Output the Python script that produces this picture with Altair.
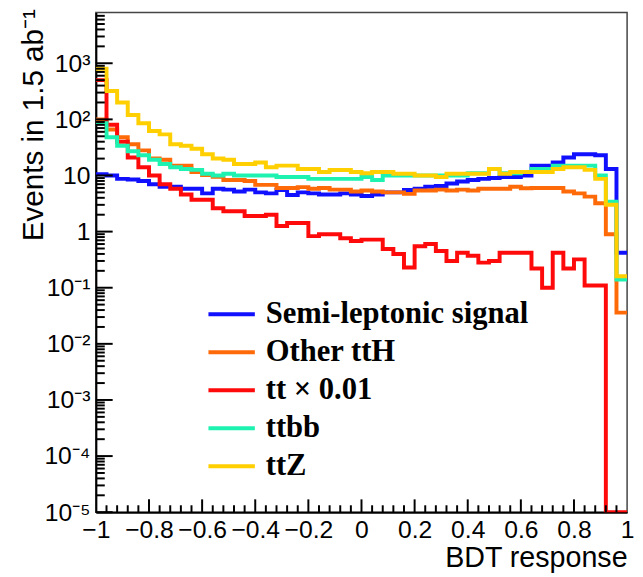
import altair as alt
import pandas as pd

# ---- data -------------------------------------------------------------
bin_lo = -1.0
bin_w = 0.04
n_bins = 50

names = ["Semi-leptonic signal", "Other ttH", "tt \u00d7 0.01", "ttbb", "ttZ"]
colors = ["#1010ff", "#ff6a08", "#ff0a0a", "#1ef2b0", "#ffcf00"]

signal = [10.5, 10, 8.7, 8.5, 8, 7, 6.3, 6.3, 5.8, 5.8,
          4.8, 5.8, 5.6, 5.2, 5.6, 5.0, 4.8, 5.5, 4.5, 5.0,
          4.8, 4.6, 4.6, 4.8, 4.6, 4.3, 4.6, 5.0, 5.0, 5.5,
          5.8, 6.3, 6.5, 7.2, 7.8, 8.3, 8.7, 9.0, 9.4, 9.4,
          10.0, 15, 15, 17, 21, 24, 24, 23, 13, 0.42]
other_tth = [100, 66, 48, 36, 28, 20, 19, 15, 15, 11.5,
             10.2, 9.5, 8.3, 8.3, 8.0, 6.8, 6.8, 6.0, 6.0, 6.2,
             5.8, 6.0, 5.6, 5.6, 5.2, 5.4, 5.2, 5.0, 5.0, 4.7,
             5.4, 5.4, 5.6, 5.4, 5.6, 5.4, 5.8, 5.8, 5.8, 6.3,
             5.9, 6.0, 6.0, 6.0, 5.2, 4.8, 4.2, 3.2, 0.9, 0.036]
tt_scaled = [500, 80, 40, 21, 14, 10, 7, 5.8, 4.6, 3.7,
             3.7, 2.6, 2.3, 2.3, 1.9, 1.9, 2.0, 1.26, 1.42, 1.42,
             0.83, 0.9, 0.9, 0.76, 0.68, 0.72, 0.72, 0.49, 0.40, 0.23,
             0.55, 0.60, 0.45, 0.30, 0.42, 0.37, 0.28, 0.30, 0.42, 0.42,
             0.42, 0.22, 0.10, 0.42, 0.22, 0.32, 0.11, 0.11, 0, 0]
ttbb = [85, 48, 34, 27, 23, 19, 16, 14, 13, 12.6,
        10.7, 10, 10.7, 10, 10, 10, 10, 9.4, 9.4, 9.4,
        8.7, 8.7, 8.7, 8.7, 8.7, 9.4, 8.3, 10, 10, 10,
        10, 10, 10, 10, 10, 11, 11, 13, 11, 11,
        11.5, 13, 13, 15, 15, 15, 15, 10, 3.4, 0.14]
ttz = [800, 320, 200, 120, 85, 62, 54, 36, 34, 30,
       24, 20, 19, 16, 16, 17, 14, 15, 15, 13,
       13, 11.5, 12.5, 12.5, 11.5, 11, 11.5, 11.5, 10.7, 10.7,
       10, 10, 9.4, 10.7, 10.7, 10.7, 10.7, 13, 10.7, 11.5,
       11.5, 11.5, 11.5, 13, 14, 14, 12.6, 8.7, 3.0, 0.16]

x_tick_values = [-1, -0.8, -0.6, -0.4, -0.2, 0, 0.2, 0.4, 0.6, 0.8, 1]
y_decades = [1e-5, 1e-4, 1e-3, 1e-2, 1e-1, 1, 10, 100, 1000]
y_min, y_max = 1e-5, 8000

# ---- tables -------------------------------------------------------------
rows = []
for name, vals in zip(names, [signal, other_tth, tt_scaled, ttbb, ttz]):
    for i, v in enumerate(vals + [vals[-1]]):
        rows.append({"series": name,
                     "x": round(bin_lo + i * bin_w, 4),
                     "y": max(v, y_min)})
df = pd.DataFrame(rows)

y_minor = []
for d in range(-5, 4):
    for k in range(2, 10):
        v = k * 10.0 ** d
        if v < y_max:
            y_minor.append(v)
y_minor_df = pd.DataFrame({"v": y_minor})
y_major_df = pd.DataFrame({"v": y_decades})
x_minor_df = pd.DataFrame({"v": [round(bin_lo + i * bin_w, 4) for i in range(51)
                                 if i % 5 != 0]})
x_major_df = pd.DataFrame({"v": x_tick_values[1:-1]})

W, H = 538, 506
FONT = "Liberation Sans"
LABEL_SIZE = 25
TITLE_SIZE = 29

xscale = alt.Scale(domain=[-1, 1], nice=False, zero=False)
yscale = alt.Scale(type="log", domain=[y_min, y_max], nice=False)

label_expr = (
    "datum.value >= 999 ? '10\u00b3' : datum.value >= 99 ? '10\u00b2' : "
    "datum.value >= 9 ? '10' : datum.value >= 0.9 ? '1' : "
    "datum.value >= 0.09 ? '10\u207b\u00b9' : datum.value >= 0.009 ? '10\u207b\u00b2' : "
    "datum.value >= 0.0009 ? '10\u207b\u00b3' : datum.value >= 0.00009 ? '10\u207b\u2074' : "
    "'10\u207b\u2075'"
)

x_axis = alt.Axis(values=x_tick_values, format="~g", ticks=False, grid=False,
                  labelFont=FONT, labelFontSize=LABEL_SIZE, labelPadding=6,
                  labelColor="black", domainColor="black", domainWidth=2,
                  title="BDT response", titleFont=FONT, titleFontSize=TITLE_SIZE,
                  titleFontWeight="normal", titleAnchor="end", titlePadding=1,
                  titleColor="black", labelFlush=False, labelOverlap=False)
y_axis = alt.Axis(values=y_decades, labelExpr=label_expr, ticks=False, grid=False,
                  labelFont=FONT, labelFontSize=LABEL_SIZE, labelPadding=6,
                  labelColor="black", domainColor="black", domainWidth=2,
                  title="Events in 1.5 ab\u207b\u00b9", titleFont=FONT,
                  titleFontSize=30, titleFontWeight="normal", titleAngle=270,
                  titleAlign="right", titleBaseline="middle", titleX=-63, titleY=-4,
                  titleColor="black", labelOverlap=False)

legend = alt.Legend(orient="none", legendX=122, legendY=290, title=None,
                    symbolType="M-4,0H4", symbolSize=138, symbolStrokeWidth=4,
                    labelFont="Liberation Serif", labelFontWeight="bold",
                    labelFontSize=31, labelLimit=500, rowPadding=6.5, labelOffset=19,
                    padding=0, labelColor="black")

color = alt.Color("series:N", scale=alt.Scale(domain=names, range=colors),
                  legend=legend)

layers = []
for name in names:
    layers.append(
        alt.Chart(df).transform_filter(alt.datum.series == name)
        .mark_line(interpolate="step-after", strokeWidth=4, clip=True)
        .encode(x=alt.X("x:Q", scale=xscale, axis=x_axis),
                y=alt.Y("y:Q", scale=yscale, axis=y_axis),
                color=color)
    )

y_minor_ticks = alt.Chart(y_minor_df).mark_rule(color="black", strokeWidth=2).encode(
    y=alt.Y("v:Q", scale=yscale), x=alt.value(0), x2=alt.value(9))
y_major_ticks = alt.Chart(y_major_df).mark_rule(color="black", strokeWidth=2).encode(
    y=alt.Y("v:Q", scale=yscale), x=alt.value(0), x2=alt.value(17))
x_minor_ticks = alt.Chart(x_minor_df).mark_rule(color="black", strokeWidth=2).encode(
    x=alt.X("v:Q", scale=xscale), y=alt.value(H), y2=alt.value(H - 7))
x_major_ticks = alt.Chart(x_major_df).mark_rule(color="black", strokeWidth=2).encode(
    x=alt.X("v:Q", scale=xscale), y=alt.value(H), y2=alt.value(H - 13))

chart = (
    alt.layer(*layers, y_minor_ticks, y_major_ticks, x_minor_ticks, x_major_ticks)
    .properties(width=W, height=H, autosize=alt.AutoSizeParams(type="none"),
                padding={"left": 89, "top": 1, "right": 8, "bottom": 62},
                background="white")
    .configure_view(stroke="#444444", strokeWidth=1.5)
)

chart.save("out.html", embed_options={"renderer": "svg", "actions": False})
